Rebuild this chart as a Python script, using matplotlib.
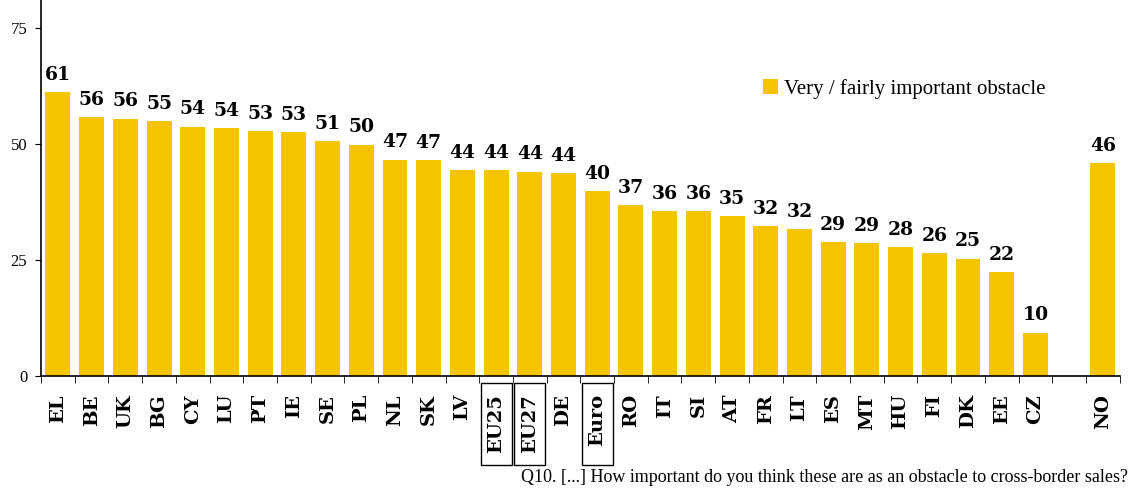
import numpy as np
import matplotlib
matplotlib.use('Agg')
import matplotlib.pyplot as plt
from matplotlib.patches import Rectangle
from matplotlib.transforms import blended_transform_factory

# country codes, gap before NO
countries = ['EL', 'BE', 'UK', 'BG', 'CY', 'LU', 'PT', 'IE', 'SE', 'PL', 'NL', 'SK', 'LV',
             'EU25', 'EU27', 'DE', 'Euro', 'RO', 'IT', 'SI', 'AT', 'FR', 'LT', 'ES', 'MT',
             'HU', 'FI', 'DK', 'EE', 'CZ', 'NO']
values = [61.2, 55.8, 55.4, 54.9, 53.7, 53.4, 52.8, 52.5, 50.6, 49.8, 46.6, 46.5, 44.4,
          44.4, 44.0, 43.7, 39.8, 36.8, 35.5, 35.5, 34.4, 32.3, 31.6, 28.8, 28.6,
          27.8, 26.4, 25.3, 22.3, 9.3, 45.9]
labels = [61, 56, 56, 55, 54, 54, 53, 53, 51, 50, 47, 47, 44,
          44, 44, 44, 40, 37, 36, 36, 35, 32, 32, 29, 29,
          28, 26, 25, 22, 10, 46]
boxed = ['EU25', 'EU27', 'Euro']
legend_label = 'Very / fairly important obstacle'
footnote = 'Q10. [...] How important do you think these are as an obstacle to cross-border sales?'

bar_color = '#F5C400'
serif = ['DejaVu Serif']

x = np.arange(len(countries))
x[-1] += 1  # empty slot before NO

fig = plt.figure(figsize=(11.31, 4.88), dpi=100)
ax = fig.add_axes([0.0363, 0.2295, 0.9537, 0.7705])

ax.bar(x, values, width=0.74, color=bar_color, label=legend_label, zorder=2)

for xi, v, lab in zip(x, values, labels):
    ax.text(xi, v + 1.8, str(lab), ha='center', va='bottom', fontsize=13.5,
            fontweight='bold', family=serif)

ax.set_xlim(-0.5, x[-1] + 0.5)
ax.set_ylim(0, 81)
ax.set_yticks([0, 25, 50, 75])
ax.set_yticklabels(['0', '25', '50', '75'], family=['Liberation Serif'], fontsize=12)

ax.set_xticks(x)
ax.set_xticklabels(countries, rotation=90, fontsize=14, fontweight='bold', family=serif)
ax.tick_params(axis='x', length=0, pad=13)
ax.set_xticks(np.arange(-0.5, x[-1] + 1, 1), minor=True)
ax.tick_params(axis='x', which='minor', length=5, direction='out')
ax.tick_params(axis='y', length=4, direction='out', pad=6)

# boxes round the averages
trans = blended_transform_factory(ax.transData, ax.transAxes)
for xi, c in zip(x, countries):
    if c in boxed:
        ax.add_patch(Rectangle((xi - 0.46, -0.237), 0.92, 0.218, transform=trans,
                               fill=False, edgecolor='black', linewidth=1, clip_on=False))

ax.spines['top'].set_visible(False)
ax.spines['right'].set_visible(False)
ax.spines['left'].set_linewidth(1.2)
ax.spines['bottom'].set_linewidth(1.2)

ax.legend(loc='upper left', bbox_to_anchor=(0.652, 0.84), frameon=False,
          handlelength=0.7, handleheight=0.7, handletextpad=0.3,
          prop={'family': 'Liberation Serif', 'size': 15})

fig.text(0.997, 0.004, footnote, ha='right', va='bottom', fontsize=13,
         family=['Liberation Serif'])

plt.savefig('out.png', dpi=100)
